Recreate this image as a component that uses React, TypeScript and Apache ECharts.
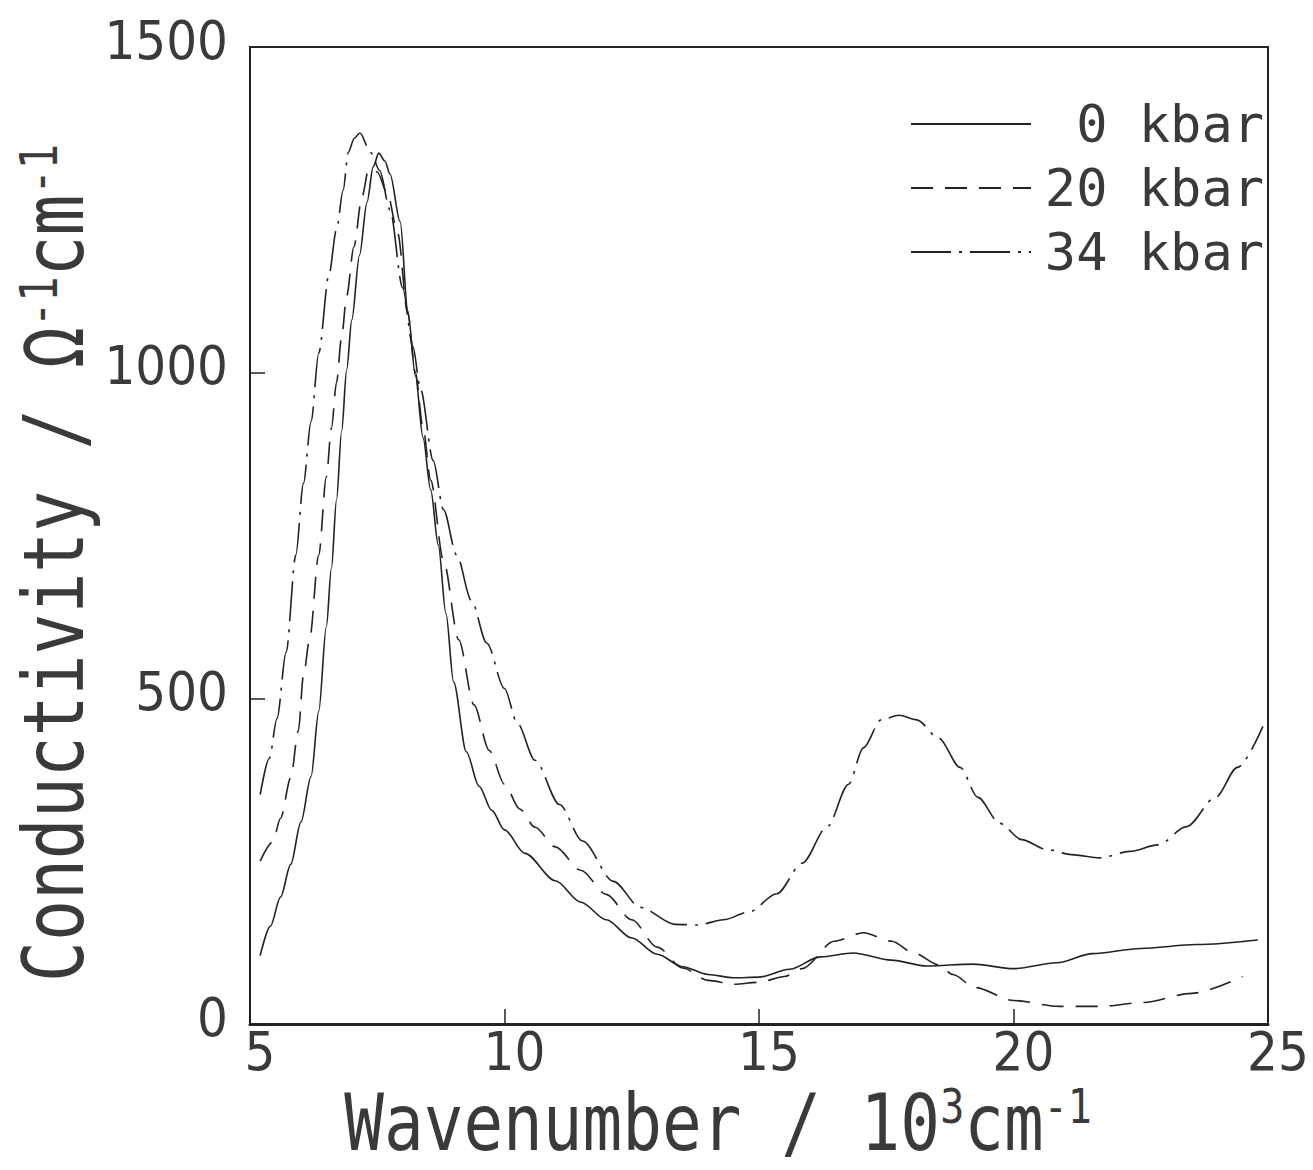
import React, { useEffect, useRef } from "react";
import * as echarts from "echarts";

// ---- data ----
const seriesNames = ["0 kbar", "20 kbar", "34 kbar"];
const xTickValues = [5, 10, 15, 20, 25];
const yTickValues = [0, 500, 1000, 1500];

const wn0 = [5.2, 5.4, 5.6, 5.8, 6.0, 6.2, 6.35, 6.5, 6.6, 6.7, 6.8, 6.9, 7.0, 7.15, 7.3, 7.42, 7.53, 7.65, 7.75, 7.95, 8.1, 8.25, 8.4, 8.55, 8.7, 8.85, 9.0, 9.25, 9.5, 9.75, 10.0, 10.4, 11.0, 11.5, 12.0, 12.5, 13.0, 13.5, 14.0, 14.5, 15.0, 15.6, 16.2, 16.85, 17.6, 18.3, 19.2, 20.0, 20.85, 21.55, 22.5, 23.6, 24.8];
const sigma0 = [105, 150, 195, 245, 310, 380, 480, 610, 700, 805, 910, 1005, 1081, 1180, 1262, 1316, 1337, 1325, 1305, 1232, 1095, 995, 900, 820, 735, 630, 525, 418, 365, 328, 298, 262, 220, 187, 160, 132, 107, 88, 76, 71, 72, 84, 103, 109, 98, 89, 92, 85, 94, 108, 116, 122, 129];

const wn20 = [5.2, 5.45, 5.6, 5.8, 5.95, 6.05, 6.17, 6.35, 6.5, 6.6, 6.7, 6.8, 6.9, 7.04, 7.2, 7.33, 7.5, 7.7, 7.9, 8.1, 8.25, 8.4, 8.55, 8.8, 9.1, 9.4, 9.7, 10.0, 10.3, 10.6, 11.0, 11.5, 12.0, 12.5, 13.0, 13.5, 14.0, 14.5, 15.0, 15.5, 15.85, 16.48, 17.05, 17.61, 18.04, 18.53, 18.81, 19.24, 20.0, 20.9, 21.7, 22.55, 23.5, 24.5];
const sigma20 = [250, 280, 316, 378, 450, 535, 590, 720, 840, 915, 985, 1055, 1118, 1193, 1270, 1312, 1308, 1275, 1215, 1090, 1000, 915, 835, 712, 590, 490, 420, 368, 330, 302, 272, 236, 199, 160, 118, 86, 67, 61, 64, 73, 85, 127, 140, 127, 109, 91, 76, 56, 36, 27, 27, 33, 47, 73];

const wn34 = [5.2, 5.38, 5.53, 5.71, 5.9, 6.05, 6.2, 6.35, 6.55, 6.7, 6.83, 6.93, 7.05, 7.16, 7.37, 7.55, 7.75, 8.0, 8.2, 8.35, 8.6, 8.8, 9.06, 9.35, 9.65, 10.0, 10.25, 10.6, 11.08, 11.53, 12.14, 12.67, 13.35, 13.8, 14.3, 14.8, 15.35, 15.85, 16.34, 16.76, 17.05, 17.4, 17.75, 18.1, 18.53, 18.95, 19.3, 19.73, 20.16, 20.65, 21.14, 21.7, 22.28, 22.84, 23.4, 23.97, 24.4, 24.9];
const sigma34 = [352, 408, 469, 571, 720, 830, 925, 1030, 1150, 1220, 1280, 1338, 1360, 1368, 1338, 1310, 1250, 1130, 1040, 975, 865, 790, 720, 650, 585, 515, 462, 405, 337, 281, 219, 179, 153, 152, 160, 172, 200, 247, 303, 368, 424, 467, 474, 467, 439, 394, 348, 308, 283, 268, 260, 255, 265, 275, 303, 348, 394, 457];

const xTitle = "Wavenumber / 10{s|3}cm{s|-1}";
const yTitle = "Conductivity / \u03A9{s|-1}cm{s|-1}";

const zip = (xs: number[], ys: number[]) => xs.map((x, i) => [x, ys[i]]);

const INK = "#222";
const TEXT = "#3a3a3a";
const fontNarrow = "'Liberation Sans Narrow', 'DejaVu Sans Condensed', 'Liberation Sans', sans-serif";
const fontMono = "'DejaVu Sans Mono', 'Liberation Mono', monospace";

export default function App() {
  const ref = useRef<HTMLDivElement>(null);

  useEffect(() => {
    document.body.style.margin = "0";
    if (!ref.current) return;
    const chart = echarts.init(ref.current, undefined, { renderer: "svg" });

    const lineTypes: any[] = ["solid", [22, 12], [40, 8, 3, 8]];
    const datasets = [zip(wn0, sigma0), zip(wn20, sigma20), zip(wn34, sigma34)];

    const option: any = {
      animation: false,
      backgroundColor: "#ffffff",
      grid: {
        left: 250,
        right: 45,
        top: 47,
        bottom: 146,
        show: true,
        borderColor: INK,
        borderWidth: 2,
        backgroundColor: "transparent",
      },
      xAxis: {
        type: "value",
        min: xTickValues[0],
        max: xTickValues[xTickValues.length - 1],
        interval: 5,
        axisLine: { show: true, onZero: false, lineStyle: { color: INK, width: 3 } },
        axisTick: { show: true, inside: true, length: 15, lineStyle: { color: INK, width: 1.5 } },
        axisLabel: {
          fontFamily: fontNarrow,
          fontSize: 54,
          color: TEXT,
          margin: 0,
          padding: [0, 0, 0, 20],
          showMinLabel: true,
          showMaxLabel: true,
          formatter: (v: number) => String(v),
        },
        splitLine: { show: false },
      },
      yAxis: {
        type: "value",
        min: yTickValues[0],
        max: yTickValues[yTickValues.length - 1],
        interval: 500,
        axisLine: { show: true, onZero: false, lineStyle: { color: INK, width: 1.5 } },
        axisTick: { show: true, inside: true, length: 15, lineStyle: { color: INK, width: 1.5 } },
        axisLabel: {
          fontFamily: fontNarrow,
          fontSize: 54,
          color: TEXT,
          margin: 22,
          showMinLabel: true,
          showMaxLabel: true,
          formatter: (v: number) => `{a|${v}}`,
          rich: {
            a: { fontFamily: fontNarrow, fontSize: 54, color: TEXT, padding: [0, 0, 14, 0] },
          },
        },
        splitLine: { show: false },
      },
      legend: {
        data: seriesNames,
        orient: "vertical",
        left: 905,
        top: 93,
        itemWidth: 120,
        itemHeight: 20,
        itemGap: 12,
        selectedMode: false,
        itemStyle: { opacity: 0 },
        formatter: (n: string) => `{t|${n}}`,
        textStyle: {
          fontFamily: fontMono,
          fontSize: 52,
          color: TEXT,
          rich: {
            t: { width: 228, align: "right", fontFamily: fontMono, fontSize: 52, color: TEXT },
          },
        },
      },
      graphic: [
        {
          type: "text",
          x: 718,
          y: 1122,
          scaleY: 1.2,
          style: {
            text: xTitle,
            fontFamily: fontMono,
            fontSize: 66,
            lineHeight: 66,
            fill: TEXT,
            align: "center",
            verticalAlign: "middle",
            rich: {
              s: { fontFamily: fontMono, fontSize: 40, fill: TEXT, verticalAlign: "top" },
            },
          },
        },
        {
          type: "text",
          x: 55,
          y: 563,
          rotation: Math.PI / 2,
          scaleY: 1.22,
          style: {
            text: yTitle,
            fontFamily: fontMono,
            fontSize: 68,
            lineHeight: 68,
            fill: TEXT,
            align: "center",
            verticalAlign: "middle",
            rich: {
              s: { fontFamily: fontMono, fontSize: 42, fill: TEXT, verticalAlign: "top" },
            },
          },
        },
      ],
      series: seriesNames.map((name, i) => ({
        name,
        type: "line",
        data: datasets[i],
        symbol: "none",
        smooth: 0.3,
        smoothMonotone: "x",
        lineStyle: { color: INK, width: 1.6, type: lineTypes[i] },
        itemStyle: { color: INK },
        emphasis: { disabled: true },
      })),
    };

    chart.setOption(option);
    return () => chart.dispose();
  }, []);

  return <div ref={ref} style={{ width: 1313, height: 1170 }} />;
}
